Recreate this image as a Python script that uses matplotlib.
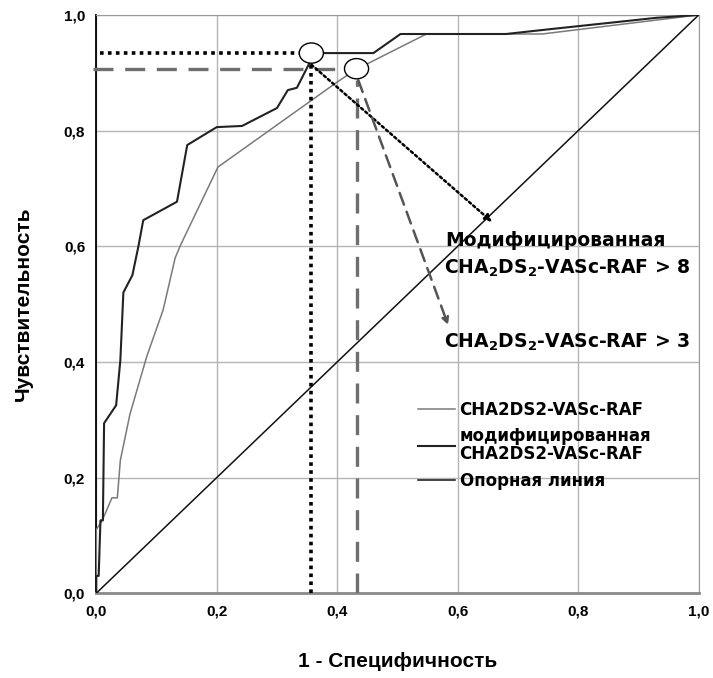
import numpy as np
import matplotlib
matplotlib.use('Agg')
import matplotlib.pyplot as plt
from matplotlib.patches import Ellipse

# ROC curve points
fpr_mod = [0.0, 0.0, 0.004, 0.007, 0.011, 0.013, 0.033, 0.040, 0.045, 0.060, 0.070, 0.078,
           0.134, 0.151, 0.200, 0.242, 0.300, 0.318, 0.333, 0.355, 0.362, 0.460, 0.505,
           0.680, 0.750, 0.930, 1.0]
tpr_mod = [0.0, 0.03, 0.03, 0.126, 0.126, 0.294, 0.325, 0.403, 0.520, 0.550, 0.600, 0.645,
           0.677, 0.775, 0.806, 0.808, 0.839, 0.870, 0.874, 0.919, 0.934, 0.934, 0.967,
           0.967, 0.975, 0.995, 1.0]

fpr_raf = [0.0, 0.0, 0.010, 0.026, 0.035, 0.040, 0.056, 0.084, 0.111, 0.131, 0.139, 0.202,
           0.400, 0.430, 0.548, 0.740, 1.0]
tpr_raf = [0.0, 0.11, 0.126, 0.165, 0.165, 0.230, 0.310, 0.410, 0.490, 0.580, 0.600, 0.737,
           0.884, 0.905, 0.967, 0.967, 1.0]

ref_line = [0.0, 1.0]

# cut-off points
cut_mod = (0.357, 0.934)
cut_raf = (0.432, 0.907)

ticks = [0.0, 0.2, 0.4, 0.6, 0.8, 1.0]
tick_labels = ['0,0', '0,2', '0,4', '0,6', '0,8', '1,0']

label_font = ['Liberation Sans', 'DejaVu Sans']
tick_font = ['Liberation Sans Narrow', 'Liberation Sans', 'DejaVu Sans']
note_font = ['DejaVu Sans']

plt.rcParams['mathtext.fontset'] = 'dejavusans'

fig = plt.figure(figsize=(7.13, 6.78), dpi=100)
ax = fig.add_axes([0.135, 0.125, 0.845, 0.853])

ax.plot(fpr_raf, tpr_raf, color='#7a7a7a', lw=1.1, label='CHA2DS2-VASc-RAF', zorder=3)
ax.plot(fpr_mod, tpr_mod, color='#222222', lw=1.5,
        label='модифицированная\nCHA2DS2-VASc-RAF', zorder=3)
ax.plot(ref_line, ref_line, color='#111111', lw=1.1, label='Опорная линия', zorder=3)

# dotted guides for the modified score
ax.plot([0.007, cut_mod[0] - 0.02], [cut_mod[1], cut_mod[1]], color='black', lw=2.6,
        linestyle=(0, (1, 1.2)), zorder=4)
ax.plot([cut_mod[0], cut_mod[0]], [0.0, cut_mod[1] - 0.015], color='black', lw=2.6,
        linestyle=(0, (1, 1.2)), zorder=4)

# dashed guides for the plain score
ax.plot([-0.006, cut_raf[0] - 0.02], [cut_raf[1], cut_raf[1]], color='#6e6e6e', lw=2.4,
        linestyle=(0, (6, 3.5)), zorder=4, clip_on=False)
ax.plot([cut_raf[0], cut_raf[0]], [0.0, cut_raf[1] - 0.02], color='#6e6e6e', lw=2.4,
        linestyle=(0, (6, 3.5)), zorder=4)

for c in (cut_mod, cut_raf):
    ax.add_patch(Ellipse(c, 0.04, 0.035, facecolor='white', edgecolor='black', lw=1.0, zorder=5))

ax.annotate('', xy=(0.657, 0.642), xytext=(cut_mod[0], cut_mod[1] - 0.02),
            arrowprops=dict(arrowstyle='-|>', color='black', lw=1.8, linestyle=(0, (1, 1.2)),
                            mutation_scale=10, shrinkA=0, shrinkB=0), zorder=4)
ax.annotate('', xy=(0.584, 0.464), xytext=(cut_raf[0] + 0.003, cut_raf[1] - 0.02),
            arrowprops=dict(arrowstyle='-|>', color='#555555', lw=1.8, linestyle=(0, (5, 3)),
                            mutation_scale=10, shrinkA=0, shrinkB=0), zorder=4)

ax.text(0.580, 0.610, 'Модифицированная', family=note_font, fontweight='bold',
        fontsize=13.5, va='center', ha='left', zorder=6)
ax.text(0.578, 0.562, r'CHA$_\mathbf{2}$DS$_\mathbf{2}$-VASc-RAF > 8', family=note_font,
        fontweight='bold', fontsize=13.5, va='center', ha='left', zorder=6)
ax.text(0.578, 0.433, r'CHA$_\mathbf{2}$DS$_\mathbf{2}$-VASc-RAF > 3', family=note_font,
        fontweight='bold', fontsize=13.5, va='center', ha='left', zorder=6)

leg = ax.legend(loc='upper left', bbox_to_anchor=(0.52, 0.347), frameon=False,
                handlelength=2.2, handletextpad=0.3, labelspacing=0.5, borderpad=0,
                prop=dict(family=note_font, weight='bold', size=12))
for t in leg.get_texts():
    t.set_linespacing(1.0)

ax.set_xlim(0, 1)
ax.set_ylim(0, 1)
ax.set_xticks(ticks)
ax.set_yticks(ticks)
ax.set_xticklabels(tick_labels, family=tick_font, fontweight='bold', fontsize=11)
ax.set_yticklabels(tick_labels, family=tick_font, fontweight='bold', fontsize=11)
ax.tick_params(length=0, pad=8)
ax.grid(True, color='#b5b5b5', lw=1.0)
ax.set_axisbelow(True)

for side in ['top', 'right']:
    ax.spines[side].set_color('#9a9a9a')
ax.spines['bottom'].set_color('#8a8a8a')
ax.spines['bottom'].set_linewidth(2.0)
ax.spines['left'].set_color('black')
ax.spines['left'].set_linewidth(1.3)

ax.set_xlabel('1 - Специфичность', family=label_font, fontweight='bold', fontsize=15, labelpad=24)
ax.set_ylabel('Чувствительность', family=label_font, fontweight='bold', fontsize=15, labelpad=22)

plt.savefig('out.png', dpi=100)
